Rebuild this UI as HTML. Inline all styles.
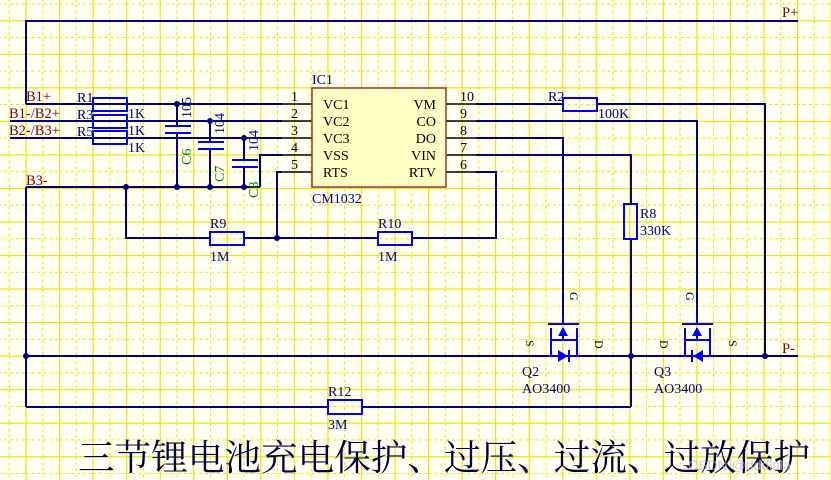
<!DOCTYPE html>
<html><head><meta charset="utf-8"><style>
html,body{margin:0;padding:0;background:#fffff2;}
svg{display:block;}
text{font-family:"Liberation Serif","Noto Serif CJK SC",serif;}
</style></head><body>
<svg width="831" height="480" viewBox="0 0 831 480" xmlns="http://www.w3.org/2000/svg">
<defs>
<pattern id="g" patternUnits="userSpaceOnUse" x="25.5" y="20.2" width="33.54" height="33.54">
<line x1="0.5" y1="0" x2="0.5" y2="33.54" stroke="#f0e000" stroke-width="1.3"/>
<line x1="0" y1="0.5" x2="33.54" y2="0.5" stroke="#f0e000" stroke-width="1.3"/>
<line x1="17.27" y1="0" x2="17.27" y2="33.54" stroke="#f0e000" stroke-width="1" stroke-dasharray="3,3"/>
<line x1="0" y1="17.27" x2="33.54" y2="17.27" stroke="#f0e000" stroke-width="1" stroke-dasharray="3,3"/>
</pattern>
</defs>
<rect width="831" height="480" fill="#fffff2"/>
<rect width="831" height="480" fill="url(#g)"/>

<g stroke="#000080" stroke-width="2" fill="none">
<polyline points="26,104 26,21 798,21"/>
<line x1="26" y1="104" x2="282" y2="104"/>
<line x1="10" y1="121" x2="282" y2="121"/>
<line x1="10" y1="138" x2="282" y2="138"/>
<line x1="26" y1="187" x2="260" y2="187"/>
<polyline points="260,187 260,155 282,155"/>
<polyline points="277,238 277,172 282,172"/>
<line x1="26" y1="187" x2="26" y2="407"/>
<line x1="177" y1="104" x2="177" y2="126"/><line x1="177" y1="133" x2="177" y2="187"/>
<line x1="210" y1="121" x2="210" y2="142"/><line x1="210" y1="149" x2="210" y2="187"/>
<line x1="244" y1="138" x2="244" y2="160"/><line x1="244" y1="167" x2="244" y2="187"/>
<polyline points="126,187 126,238 210,238"/>
<line x1="244" y1="238" x2="378" y2="238"/>
<polyline points="412,238 496,238 496,172 476,172"/>
<line x1="476" y1="104" x2="563" y2="104"/>
<polyline points="597,104 765,104 765,356"/>
<polyline points="476,121 697,121 697,316"/>
<polyline points="476,138 563,138 563,316"/>
<polyline points="476,155 631,155 631,204"/>
<line x1="631" y1="239" x2="631" y2="407"/>
<line x1="26" y1="356" x2="548" y2="356"/>
<line x1="578" y1="356" x2="682" y2="356"/>
<line x1="712" y1="356" x2="798" y2="356"/>
<line x1="26" y1="407" x2="328" y2="407"/>
<line x1="362" y1="407" x2="631" y2="407"/>
</g>
<g stroke="#000" stroke-width="1.5">
<line x1="282" y1="104" x2="312" y2="104"/><line x1="282" y1="121" x2="312" y2="121"/>
<line x1="282" y1="138" x2="312" y2="138"/><line x1="282" y1="155" x2="312" y2="155"/>
<line x1="282" y1="172" x2="312" y2="172"/>
<line x1="446" y1="104" x2="476" y2="104"/><line x1="446" y1="121" x2="476" y2="121"/>
<line x1="446" y1="138" x2="476" y2="138"/><line x1="446" y1="155" x2="476" y2="155"/>
<line x1="446" y1="172" x2="476" y2="172"/>
</g>
<g fill="#000080">
<circle cx="177" cy="104" r="3"/><circle cx="210" cy="121" r="3"/><circle cx="244" cy="138" r="3"/>
<circle cx="126" cy="187" r="3"/><circle cx="177" cy="187" r="3"/><circle cx="210" cy="187" r="3"/><circle cx="244" cy="187" r="3"/>
<circle cx="277" cy="238" r="3"/><circle cx="26" cy="356" r="3"/><circle cx="631" cy="356" r="3"/><circle cx="765" cy="356" r="3"/>
</g>
<rect x="312" y="88" width="134" height="99" fill="#ffffc4" stroke="#a0302a" stroke-width="1.5"/>
<g stroke="#0000ff" stroke-width="2" fill="none">
<rect x="93" y="98" width="34" height="13"/>
<rect x="93" y="115" width="34" height="13"/>
<rect x="93" y="131" width="34" height="13"/>
<line x1="165" y1="126" x2="191" y2="126"/><line x1="165" y1="133" x2="191" y2="133"/>
<line x1="198" y1="142" x2="224" y2="142"/><line x1="198" y1="149" x2="224" y2="149"/>
<line x1="232" y1="160" x2="258" y2="160"/><line x1="232" y1="167" x2="258" y2="167"/>
<rect x="210" y="232" width="34" height="13"/>
<rect x="378" y="232" width="34" height="13"/>
<rect x="563" y="98" width="34" height="13"/>
<rect x="624" y="204" width="13" height="35"/>
<rect x="328" y="400" width="34" height="14"/>
<line x1="548" y1="324" x2="579" y2="324"/>
<line x1="563" y1="316" x2="563" y2="324"/>
<polyline points="551,328 551,356 548,356"/>
<polyline points="577,328 577,356 579,356"/>
<line x1="563" y1="328" x2="563" y2="340"/>
<line x1="551" y1="340" x2="577" y2="340"/>
<line x1="548" y1="356" x2="579" y2="356"/>
<line x1="569" y1="350" x2="569" y2="362"/>
<line x1="682" y1="324" x2="713" y2="324"/>
<line x1="697" y1="316" x2="697" y2="324"/>
<polyline points="685,328 685,356 682,356"/>
<polyline points="710,328 710,356 712,356"/>
<line x1="697" y1="328" x2="697" y2="340"/>
<line x1="685" y1="340" x2="710" y2="340"/>
<line x1="682" y1="356" x2="712" y2="356"/>
<line x1="692" y1="350" x2="692" y2="362"/>
</g>
<g fill="#0000ff">
<polygon points="563,327 558,336 568,336"/>
<polygon points="558,350 558,362 568,356"/>
<polygon points="697,327 692,336 702,336"/>
<polygon points="703,350 703,362 693,356"/>
</g>

<g font-size="14.5" fill="#800000">
<text x="26" y="101">B1+</text>
<text x="9" y="118">B1-/B2+</text>
<text x="9" y="135">B2-/B3+</text>
<text x="26" y="185">B3-</text>
<text x="782" y="17">P+</text>
<text x="782" y="353">P-</text>
</g>
<g font-size="14" fill="#000080">
<text x="77" y="102">R1</text><text x="77" y="119">R3</text><text x="77" y="136">R5</text>
<text x="128" y="118">1K</text><text x="128" y="135">1K</text><text x="128" y="152">1K</text>
<text x="312" y="84">IC1</text>
<text x="312" y="203">CM1032</text>
<text x="210" y="228">R9</text><text x="210" y="261">1M</text>
<text x="378" y="228">R10</text><text x="378" y="261">1M</text>
<text x="548" y="101">R2</text><text x="598" y="118">100K</text>
<text x="640" y="218">R8</text><text x="640" y="235">330K</text>
<text x="328" y="396">R12</text><text x="328" y="429">3M</text>
<text x="522" y="376">Q2</text><text x="522" y="393">AO3400</text>
<text x="654" y="376">Q3</text><text x="654" y="393">AO3400</text>
</g>
<g font-size="14" fill="#000080">
<text transform="translate(191,118) rotate(-90)">105</text>
<text transform="translate(224,134) rotate(-90)">104</text>
<text transform="translate(258,151) rotate(-90)">104</text>
</g>
<g font-size="14" fill="#008000">
<text transform="translate(191,165) rotate(-90)">C6</text>
<text transform="translate(224,182) rotate(-90)">C7</text>
<text transform="translate(258,198) rotate(-90)">C8</text>
</g>
<g font-size="12" fill="#000">
<text transform="translate(570,292) rotate(90)">G</text>
<text transform="translate(686,292) rotate(90)">G</text>
<text transform="translate(526,340) rotate(90)">S</text>
<text transform="translate(595,340) rotate(90)">D</text>
<text transform="translate(660,340) rotate(90)">D</text>
<text transform="translate(729,340) rotate(90)">S</text>
</g>
<g font-size="14" fill="#000">
<text x="291" y="101">1</text><text x="291" y="118">2</text><text x="291" y="135">3</text><text x="291" y="152">4</text><text x="291" y="169">5</text>
<text x="323" y="109">VC1</text><text x="323" y="126">VC2</text><text x="323" y="143">VC3</text><text x="323" y="160">VSS</text><text x="323" y="177">RTS</text>
<g text-anchor="end">
<text x="436" y="109">VM</text><text x="436" y="126">CO</text><text x="436" y="143">DO</text><text x="436" y="160">VIN</text><text x="436" y="177">RTV</text>
</g>
<text x="460" y="101">10</text><text x="460" y="118">9</text><text x="460" y="135">8</text><text x="460" y="152">7</text><text x="460" y="169">6</text>
</g>
<text x="78" y="470" font-size="36" fill="#000040" textLength="732" lengthAdjust="spacingAndGlyphs" style="font-family:'Noto Serif CJK SC','Noto Sans CJK SC',serif">三节锂电池充电保护、过压、过流、过放保护</text>
<text x="688" y="470" font-size="14" fill="#bbb" opacity="0.7" style="font-family:'Liberation Sans',sans-serif">CSDN @dddlala</text>
</svg>
</body></html>
